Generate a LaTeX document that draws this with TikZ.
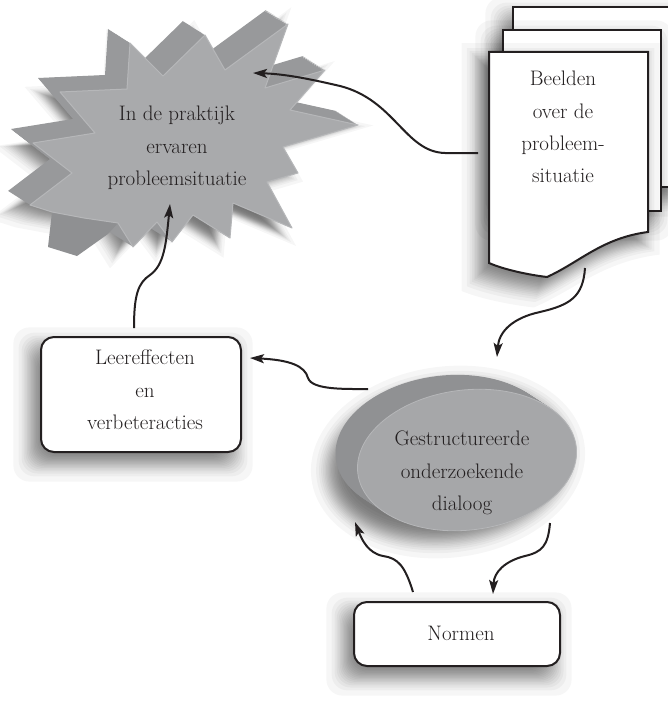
\documentclass[tikz,border=0pt]{standalone}
\usetikzlibrary{arrows.meta}
\definecolor{ink}{HTML}{231F20}
\definecolor{burstface}{HTML}{A9AAAC}
\definecolor{burstside}{HTML}{98999B}
\definecolor{burstdark}{HTML}{8F9092}
\definecolor{burstedge}{HTML}{B6B7B9}
\definecolor{ellface}{HTML}{A6A7A9}
\definecolor{ellside}{HTML}{909193}
\newcommand\blurlist{-19.6,-14.4,-11.5,-9.35,-7.55,-5.98,-4.54,-3.19,-1.89,-0.63,0.63,1.89,3.19,4.54,5.98,7.55,9.35,11.5,14.4,19.6}
\tikzset{
  shadelayer/.style={fill=black, opacity=0.034},
  card/.style={draw=ink, line width=2pt, fill=white, rounded corners=13pt},
  sheet/.style={draw=ink, line width=2pt, fill=white},
  lbl/.style={font=\fontsize{21}{32.3}\selectfont, align=center, text=ink},
  flow/.style={draw=ink, line width=2pt, -{Stealth[length=14pt,width=9pt,inset=3pt]}},
  burstoutline/.style={insert path={(130,43) -- (163,76) -- (205,35) -- (225,70) -- (288,24) -- (265,88) -- (325,70) -- (290,110) -- (358,125) -- (283,147) -- (298,173) -- (267,182) -- (292,228) -- (233,203) -- (230,238) -- (193,215) -- (172,242) -- (157,222) -- (133,247) -- (118,223) -- (84,218) -- (52,212) -- (30,205) -- (72,173) -- (33,143) -- (95,133) -- (60,92) -- (127,89) -- cycle}},
  pageoutline/.style={insert path={(489,52) -- (648,52) -- (648,232) .. controls (602,238) and (580,262) .. (547,277) .. controls (530,275) and (505,270) .. (489,263) -- cycle}},
}
% soft shadow of a rectangle: x1,y1,x2,y2 (y downwards)
\newcommand\rectshade[4]{%
  \foreach \o in \blurlist {%
    \path[shadelayer, rounded corners=16pt] ({#1-8-\o},{#2+10-\o}) rectangle ({#3-8+\o},{#4+10+\o});
  }%
}
\begin{document}
\begin{tikzpicture}[x=1pt,y=-1pt]
\path[fill=white, use as bounding box] (0,0) rectangle (667,706);

% ---- starburst (extruded)
\foreach \o in \blurlist {
  \path[shadelayer, line join=round, shift={(165,143)}, scale={1+\o/115}, shift={(-180,-140)}, burstoutline];
}
\foreach \k in {24,23,...,1} {
  \path[fill=burstside, shift={({-22*\k/24},{-14*\k/24})}, burstoutline];
}
\fill[burstdark] (52,212) -- (118,223) -- (108,234) -- (77,256) -- (48,247) -- cycle;
\path[fill=burstface, draw=burstedge, line width=1pt, line join=round, burstoutline];
\node[lbl] (burst) at (177,148) {In de praktijk\\ervaren\\probleemsituatie};

% ---- document stack
\rectshade{513}{7}{690}{187}
\path[sheet] (513,7) rectangle (690,187);
\rectshade{503}{30}{661}{211}
\path[sheet] (503,30) rectangle (661,211);
\foreach \o in \blurlist {
  \path[shadelayer, shift={(560,170)}, xscale={1+\o/80}, yscale={1+\o/112}, shift={(-568,-160)}, pageoutline];
}
\path[sheet, pageoutline];
\node[lbl] (doc) at (563,127) {Beelden\\over de\\probleem-\\situatie};

% ---- extruded ellipse
\foreach \o in \blurlist {
  \path[shadelayer, rotate around={7:(448,462)}] (448,462) ellipse [x radius={(118+\o)*1pt}, y radius={(76+\o)*1pt}];
}
\foreach \k in {20,19,...,0} {
  \fill[ellside, rotate around={7:({467-1.1*\k},{460-0.72*\k})}] ({467-1.1*\k},{460-0.72*\k}) ellipse [x radius=110pt, y radius=70pt];
}
\fill[ellface, draw=burstedge, line width=0.8pt, rotate around={7:(467,460)}] (467,460) ellipse [x radius=110pt, y radius=70pt];
\node[lbl] (dialog) at (462,473) {Gestructureerde\\onderzoekende\\dialoog};

% ---- boxes
\rectshade{41}{337}{241}{452}
\node[card, minimum width=200pt, minimum height=115pt] (leer) at (141,394.5) {};
\node[lbl] (leertxt) at (145,390) {Leereffecten\\en\\verbeteracties};
\rectshade{354}{602}{560}{666}
\node[card, minimum width=206pt, minimum height=64pt] (norm) at (457,634) {};
\node[lbl] (normtxt) at (461,633) {Normen};

% ---- connector ends
\coordinate (docL) at (478,153);
\coordinate (burstR) at (253,73);
\coordinate (leerT) at (134,328);
\coordinate (burstB) at (170,204);
\coordinate (docB) at (585,268);
\coordinate (dialogT) at (497,357);
\coordinate (dialogL) at (368,389);
\coordinate (leerR) at (250,358);
\coordinate (normL) at (413,592);
\coordinate (dialogBL) at (355,522);
\coordinate (dialogBR) at (550,523);
\coordinate (normT) at (493,594);

% ---- connectors
\draw[flow] (docL) -- (445,153) .. controls (405,152) and (395,100) .. (340,86) .. controls (310,79) and (285,74) .. (burstR);
\draw[flow] (leerT) .. controls (134,295) and (138,283) .. (150,275) .. controls (164,265) and (166,245) .. (burstB);
\draw[flow] (docB) .. controls (583,297) and (570,305) .. (540,312) .. controls (512,318) and (499,332) .. (dialogT);
\draw[flow] (dialogL) .. controls (345,389) and (312,390) .. (308,378) .. controls (305,366) and (290,360) .. (leerR);
\draw[flow] (normL) .. controls (405,566) and (398,558) .. (383,556) .. controls (368,553) and (362,540) .. (dialogBL);
\draw[flow] (dialogBR) .. controls (548,546) and (542,552) .. (525,556) .. controls (505,561) and (494,572) .. (normT);
\end{tikzpicture}
\end{document}
